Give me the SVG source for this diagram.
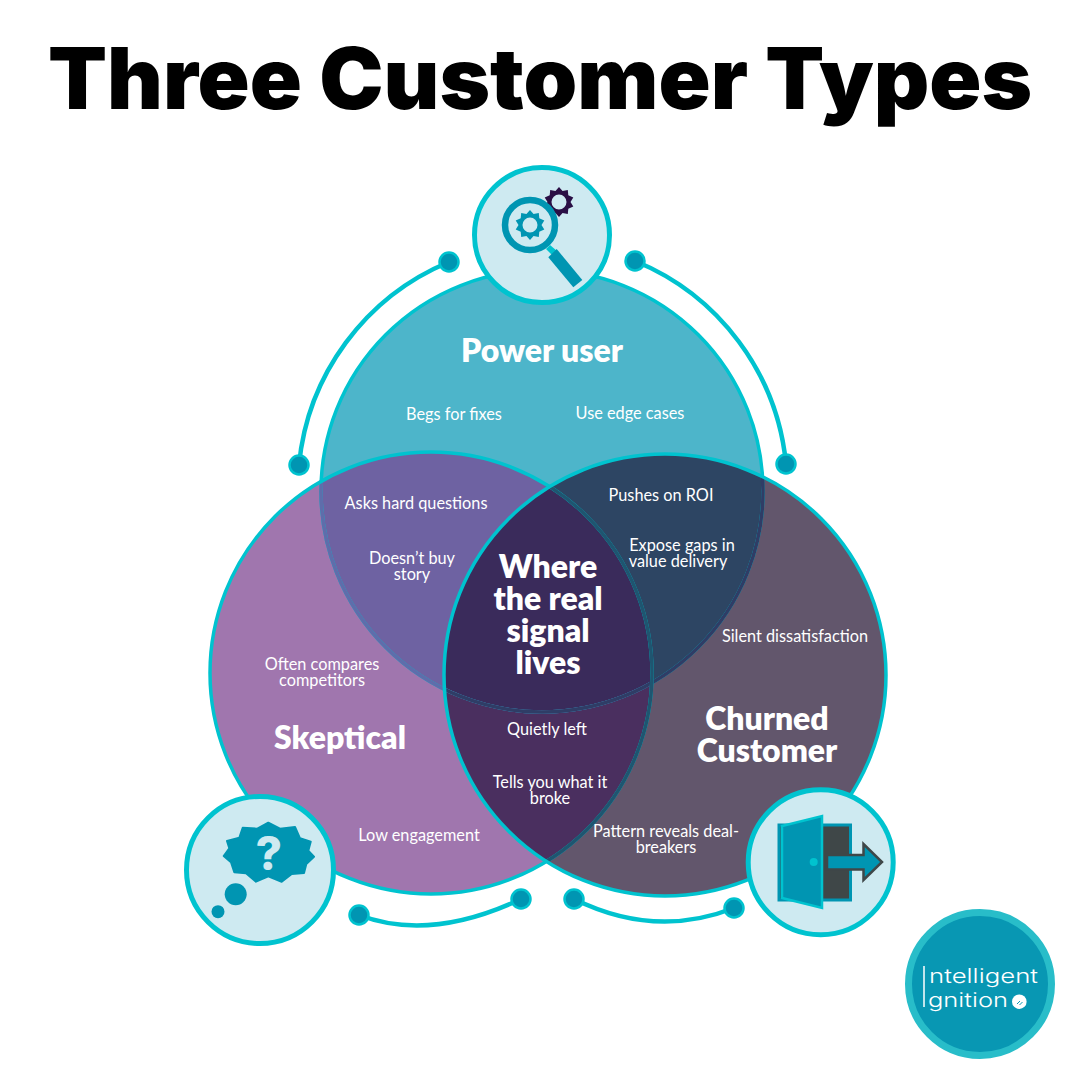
<svg xmlns="http://www.w3.org/2000/svg" width="1080" height="1080" viewBox="0 0 1080 1080">
<style>
text{font-family:"Lato","Liberation Sans",sans-serif;text-anchor:middle;fill:#fff}
.t{font-size:16.3px;font-weight:400}
.h{font-size:32px;font-weight:800}
.ring{stroke-width:3.5;fill:none}
.arc{stroke:#00c3cf;stroke-width:4.5;fill:none}
.dot{fill:#0095b2;stroke:#00c3cf;stroke-width:2.5}
.badge{fill:#ceeaf1;stroke:#00c3cf;stroke-width:5}
.ic{fill:#0095b2}
.lg{font-family:"Inter","Liberation Sans",sans-serif;font-size:20px;font-weight:300;text-anchor:start}
</style>
<defs>
<clipPath id="cT"><circle cx="542" cy="491" r="221"/></clipPath>
<clipPath id="cL"><circle cx="431" cy="673" r="221"/></clipPath>
<clipPath id="cR"><circle cx="665" cy="675" r="221"/></clipPath>
<path id="gear" fill-rule="evenodd" d="M0-15L3.55-10.9 8.8-12.1 9.3-6.8 14.3-4.6 11.5 0 14.3 4.6 9.3 6.8 8.8 12.1 3.55 10.9 0 15-3.55 10.9-8.8 12.1-9.3 6.8-14.3 4.6-11.5 0-14.3-4.6-9.3-6.8-8.8-12.1-3.55-10.9zM0-7.5a7.5 7.5 0 1 0 0 15a7.5 7.5 0 1 0 0-15z"/>
</defs>
<rect width="1080" height="1080" fill="#fff"/>
<text x="540" y="109" style="font-family:Inter,'Liberation Sans',sans-serif;font-size:85px;font-weight:900;fill:#000" textLength="984" lengthAdjust="spacingAndGlyphs">Three Customer Types</text>
<g id="connectors">
<path class="arc" d="M449 262A245 245 0 0 0 299 465"/>
<path class="arc" d="M635 261A245 245 0 0 1 786 464"/>
<path class="arc" d="M359 915Q430 942 521 899"/>
<path class="arc" d="M574 899Q655 939 734 908"/>
<circle class="dot" cx="449" cy="262" r="9.5"/><circle class="dot" cx="635" cy="261" r="9.5"/>
<circle class="dot" cx="299" cy="465" r="9.5"/><circle class="dot" cx="786" cy="464" r="9.5"/>
<circle class="dot" cx="359" cy="915" r="9.5"/><circle class="dot" cx="521" cy="899" r="9.5"/>
<circle class="dot" cx="574" cy="899" r="9.5"/><circle class="dot" cx="734" cy="908" r="9.5"/>
</g>
<g id="venn">
<circle cx="542" cy="491" r="221" fill="#4db5ca"/>
<circle cx="431" cy="673" r="221" fill="#a076ae"/>
<circle cx="665" cy="675" r="221" fill="#62566c"/>
<g clip-path="url(#cT)"><circle cx="431" cy="673" r="221" fill="#6e62a2"/><circle cx="665" cy="675" r="221" fill="#2d4563"/></g>
<g clip-path="url(#cL)"><circle cx="665" cy="675" r="221" fill="#4a2f5f"/><g clip-path="url(#cT)"><circle cx="665" cy="675" r="221" fill="#3a2b5b"/></g></g>
<circle class="ring" stroke="#00c3cf" cx="542" cy="491" r="221"/>
<g clip-path="url(#cL)"><circle class="ring" stroke="#5f6dab" cx="542" cy="491" r="221"/></g>
<g clip-path="url(#cR)"><circle class="ring" stroke="#2f3d66" cx="542" cy="491" r="221"/></g>
<circle class="ring" stroke="#00c3cf" cx="431" cy="673" r="221"/>
<g clip-path="url(#cR)"><circle class="ring" stroke="#1f5570" cx="431" cy="673" r="221"/></g>
<circle class="ring" stroke="#00c3cf" cx="665" cy="675" r="221"/>
</g>
<g id="power-user">
<text class="h" x="542" y="362">Power user</text>
<text class="t" x="454" y="420">Begs for fixes</text>
<text class="t" x="630" y="419">Use edge cases</text>
</g>
<g id="skeptical">
<text class="h" x="340" y="749">Skeptical</text>
<text class="t" y="670"><tspan x="322">Often compares</tspan><tspan x="322" dy="16">competitors</tspan></text>
<text class="t" x="419" y="841">Low engagement</text>
</g>
<g id="churned">
<text class="h" y="730"><tspan x="767">Churned</tspan><tspan x="767" dy="32">Customer</tspan></text>
<text class="t" x="795" y="642">Silent dissatisfaction</text>
<text class="t" y="837"><tspan x="666">Pattern reveals deal-</tspan><tspan x="666" dy="16">breakers</tspan></text>
</g>
<g id="overlaps">
<text class="t" x="416" y="509">Asks hard questions</text>
<text class="t" y="564"><tspan x="412">Doesn’t buy</tspan><tspan x="412" dy="16">story</tspan></text>
<text class="t" x="661" y="501">Pushes on ROI</text>
<text class="t" y="551"><tspan x="682">Expose gaps in</tspan><tspan x="678" dy="16">value delivery</tspan></text>
<text class="t" x="547" y="735">Quietly left</text>
<text class="t" y="788"><tspan x="550">Tells you what it</tspan><tspan x="550" dy="16">broke</tspan></text>
</g>
<g id="center">
<text class="h" y="578"><tspan x="548">Where</tspan><tspan x="548" dy="32">the real</tspan><tspan x="548" dy="32">signal</tspan><tspan x="548" dy="32">lives</tspan></text>
</g>
<g id="badge-power">
<circle class="badge" cx="542" cy="235" r="67.5"/>
<use href="#gear" x="559" y="202" fill="#2a0f45"/>
<circle cx="530" cy="225" r="25" fill="#ceeaf1" stroke="#0095b2" stroke-width="6.5"/>
<use href="#gear" x="530" y="225" fill="#0095b2"/>
<path d="M546 249l4-4 7 6-4 5z" fill="#00c3cf"/>
<path d="M548.3 257.3L556.7 249 582.3 280 573.3 287.3z" class="ic"/>
</g>
<g id="badge-skeptical">
<circle class="badge" cx="260" cy="870" r="73.5"/>
<path class="ic" stroke="#0095b2" stroke-width="2" stroke-linejoin="round" d="M268.3 822.7L280 828.7 295 827 300 838.3 310.7 841.7 308.3 850.7 314 856.7 306.3 864 304 873 291.7 874 281.7 881.7 268.3 876.3 256 881.7 246 873.3 234.3 872.3 231 862.3 223.7 856 229.3 848.3 227 841 239.3 837.7 242.7 827.7 257.3 828.7z"/>
<circle class="ic" cx="235.7" cy="894.3" r="11"/>
<circle class="ic" cx="218" cy="911.7" r="6.5"/>
<text x="268.7" y="870" style="font-family:Inter,'Liberation Sans',sans-serif;font-size:46px;font-weight:800;fill:#ceeaf1">?</text>
</g>
<g id="badge-churned">
<circle class="badge" cx="820.7" cy="862.3" r="72.5"/>
<rect x="779" y="825" width="71.5" height="75" fill="#3f4748" stroke="#0095b2" stroke-width="3"/>
<path d="M822 816V908L782 898V826z" fill="#0095b2" stroke="#00c3cf" stroke-width="2.5"/>
<circle cx="813.7" cy="862" r="4" fill="#00c3cf"/>
<path d="M827 855H863.500V844L882 862 863.500 880V869.500H827z" fill="#0095b2" stroke="#3f4748" stroke-width="2.500"/>
</g>
<g id="logo">
<circle cx="980" cy="984" r="71.500" fill="#0897b3" stroke="#28bdc9" stroke-width="7"/>
<path d="M924 966V1007" stroke="#fff" stroke-width="1.500"/>
<text class="lg" x="929" y="983" textLength="109" lengthAdjust="spacingAndGlyphs">ntelligent</text>
<text class="lg" x="928" y="1007" textLength="80" lengthAdjust="spacingAndGlyphs">gnition</text>
<circle cx="1019.300" cy="1001.700" r="7.300" fill="#fff"/>
<path d="M1017 1004l3-3M1019.500 1005l3-3" stroke="#0897b3" stroke-width="1"/>
</g>
</svg>
